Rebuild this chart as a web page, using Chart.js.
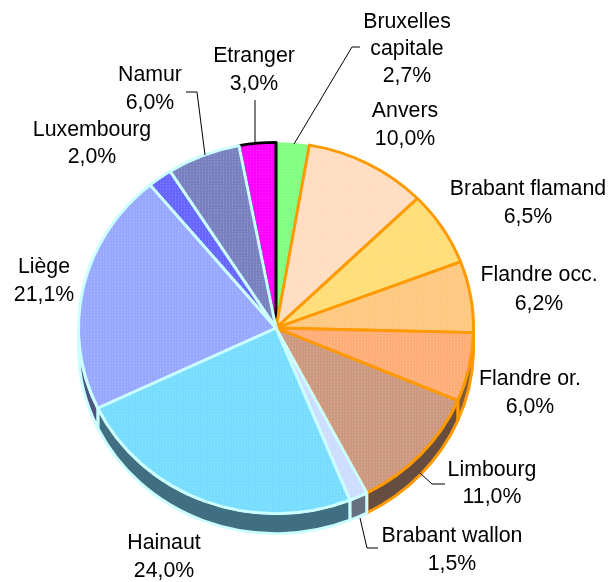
<!DOCTYPE html>
<html>
<head>
<meta charset="utf-8">
<script src="https://cdn.jsdelivr.net/npm/chart.js@4/dist/chart.umd.min.js"></script>
<style>
html, body { margin: 0; padding: 0; background: #fff; }
canvas { display: block; }
</style>
</head>
<body>
<canvas id="myChart" width="608" height="582"></canvas>
<script>
const categories = ['Bruxelles capitale', 'Anvers', 'Brabant flamand', 'Flandre occ.', 'Flandre or.', 'Limbourg', 'Brabant wallon', 'Hainaut', 'Liège', 'Luxembourg', 'Namur', 'Etranger'];
const values = [2.7, 10.0, 6.5, 6.2, 6.0, 11.0, 1.5, 24.0, 21.1, 2.0, 6.0, 3.0];

const fillColors = ['#80ff80', '#ffddc0', '#ffdd77', '#ffc880', '#ffad77', '#cc9980', '#ccddff', '#77ddff', '#99a8ff', '#6666ff', '#7880c0', '#ff00ff'];
const wallColors = ['#408040', '#806f60', '#806f3c', '#806440', '#80583c', '#664d40', '#667080', '#3f6f80', '#4d5480', '#333380', '#3c4060', '#800080'];
const edgeColors = ['#80ff80', '#ff9900', '#ff9900', '#ff9900', '#ff9900', '#ff9900', '#ccffff', '#ccffff', '#ccffff', '#ccffff', '#ccffff', '#000000'];
const edgeWidths = [0, 3, 3, 3, 3, 3, 3, 3, 3, 3, 3, 3];
// Bruxelles first so that Etranger keeps its black edge, Namur goes over its left one
const drawOrder = [0, 11, 1, 2, 3, 4, 5, 6, 7, 8, 9, 10];

const squash = 0.94;
const depth = 20;

// text boxes: centre x, line centres y
const labelSpots = [
  [407, [22, 49, 76]], [405, [111, 139]], [528, [189, 217]], [539, [275, 304]],
  [530, [379, 407]], [492, [470, 497]], [452, [536, 564]], [164, [543, 571]],
  [44, [267, 295]], [92, [130, 157]], [150, [75, 103]], [254, [56, 84]]
];
const leaders = [
  [[294, 144], [352, 47], [360, 47]],
  [[420, 473], [432, 484], [445, 484]],
  [[360, 518], [367, 548], [378, 548]],
  [[205, 155], [197, 92], [186, 92]],
  [[255, 143], [255, 100]]
];

function dither(color) {
  const tile = document.createElement('canvas');
  tile.width = 3;
  tile.height = 3;
  const c = tile.getContext('2d');
  c.fillStyle = color;
  c.fillRect(0, 0, 3, 3);
  c.fillStyle = 'rgba(255,255,255,0.25)';
  c.fillRect(1, 1, 1, 1);
  const p = c.createPattern(tile, 'repeat');
  p.setTransform(new DOMMatrix().scale(1, 1 / squash));
  return p;
}

function wallPart(ctx, arc, i) {
  const a0 = Math.max(arc.startAngle, 0);
  const a1 = Math.min(arc.endAngle, Math.PI);
  // only the part facing the viewer (canvas angles 0..PI)
  if (a1 <= a0) return;
  const r = arc.outerRadius;
  const d = depth / squash;
  ctx.beginPath();
  ctx.arc(arc.x, arc.y, r, a0, a1);
  ctx.arc(arc.x, arc.y + d, r, a1, a0, true);
  ctx.closePath();
  ctx.fillStyle = wallColors[i];
  ctx.fill();
  ctx.lineWidth = edgeWidths[i];
  ctx.strokeStyle = edgeColors[i];
  ctx.lineJoin = 'round';
  ctx.stroke();
}

const pie3d = {
  id: 'pie3d',
  beforeDatasetDraw(chart, args) {
    const ctx = chart.ctx;
    const arcs = args.meta.data;
    const cx = arcs[0].x;
    const cy = arcs[0].y;
    ctx.save();
    ctx.translate(cx, cy);
    ctx.scale(1, squash);
    ctx.translate(-cx, -cy);
    arcs.forEach((arc, i) => wallPart(ctx, arc, i));
    drawOrder.forEach(i => arcs[i].draw(ctx, chart.chartArea));
    ctx.restore();
    return false;
  }
};

const sliceText = {
  id: 'sliceText',
  afterDraw(chart) {
    const ctx = chart.ctx;
    ctx.save();
    ctx.strokeStyle = '#000';
    ctx.lineWidth = 1;
    leaders.forEach(pts => {
      ctx.beginPath();
      pts.forEach((p, k) => k ? ctx.lineTo(p[0], p[1]) : ctx.moveTo(p[0], p[1]));
      ctx.stroke();
    });
    ctx.fillStyle = '#000';
    ctx.font = '21.3px "Liberation Sans"';
    ctx.textAlign = 'center';
    ctx.textBaseline = 'middle';
    categories.forEach((name, i) => {
      const lines = i === 0 ? ['Bruxelles', 'capitale'] : [name];
      lines.push(values[i].toFixed(1).replace('.', ',') + '%');
      const spot = labelSpots[i];
      lines.forEach((t, k) => ctx.fillText(t, spot[0], spot[1][k]));
    });
    ctx.restore();
  }
};

new Chart(document.getElementById('myChart').getContext('2d'), {
  type: 'pie',
  data: {
    labels: categories,
    datasets: [{
      data: values,
      backgroundColor: fillColors.map(dither),
      borderColor: edgeColors,
      borderWidth: edgeWidths,
      borderJoinStyle: 'round'
    }]
  },
  options: {
    responsive: false,
    animation: false,
    events: [],
    layout: { padding: { left: 77, right: 133, top: 129, bottom: 55 } },
    plugins: { legend: { display: false }, tooltip: { enabled: false } }
  },
  plugins: [pie3d, sliceText]
});
</script>
</body>
</html>
